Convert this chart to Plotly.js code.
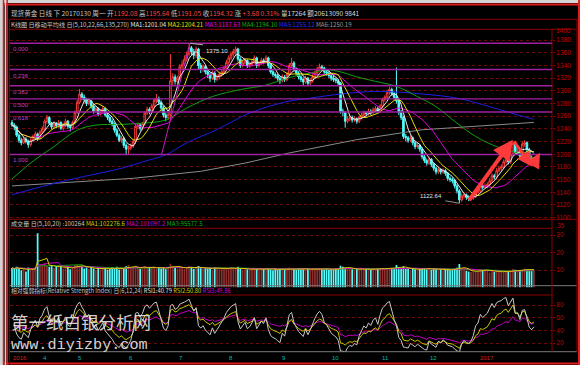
<!DOCTYPE html>
<html><head><meta charset="utf-8">
<script src="https://cdn.plot.ly/plotly-3.0.1.min.js"></script>
<style>html,body{margin:0;padding:0;background:#000;}#chart{width:580px;height:365px;}</style>
</head><body><div id="chart"></div>
<script>
// ---- daily bars (index 0 = first bar on chart, last = 2017-01-30) ----
const openP = [1250,1246,1243,1230,1222,1218,1224,1220,1215,1222,
 1228,1232,1225,1235,1240,1252,1258,1249,1243,1248,
 1245,1250,1241,1246,1252,1244,1242,1250,1266,1282,
 1295,1290,1286,1280,1284,1276,1268,1272,1264,1268,
 1272,1262,1258,1252,1248,1238,1230,1222,1225,1214,
 1208,1210,1213,1220,1244,1246,1241,1248,1265,1271,
 1268,1276,1285,1288,1282,1273,1262,1258,1263,1316,
 1322,1315,1320,1338,1342,1350,1358,1368,1362,1356,
 1366,1340,1334,1338,1330,1326,1320,1328,1318,1322,
 1326,1330,1336,1345,1352,1358,1362,1366,1350,1340,
 1344,1348,1340,1342,1346,1352,1340,1344,1348,1346,
 1352,1340,1330,1326,1324,1320,1316,1322,1318,1326,
 1340,1344,1334,1328,1322,1318,1314,1320,1312,1316,
 1322,1328,1334,1338,1336,1330,1328,1324,1320,1318,
 1316,1312,1268,1266,1252,1256,1258,1254,1256,1252,
 1258,1262,1266,1264,1268,1266,1270,1272,1268,1276,
 1286,1290,1298,1302,1296,1290,1284,1266,1258,1228,
 1226,1222,1226,1218,1212,1214,1208,1196,1190,1186,
 1192,1184,1178,1172,1176,1172,1174,1170,1162,1160,
 1158,1150,1142,1128,1134,1136,1132,1130,1131,1134,
 1140,1142,1150,1148,1150,1152,1158,1166,1164,1174,
 1178,1180,1188,1192,1188,1200,1217,1203,1204,1197,
 1216,1218,1207,1195.3,1192.08];
const highP = [1254,1249,1245,1233,1226,1228,1227,1223,1225,1231,
 1236,1234,1238,1244,1255,1262,1260,1251,1252,1251,
 1254,1252,1249,1256,1254,1247,1253,1269,1286,1303,
 1298,1294,1289,1288,1286,1279,1276,1274,1271,1276,
 1274,1265,1261,1255,1250,1241,1233,1229,1227,1217,
 1214,1217,1224,1248,1250,1249,1251,1268,1275,1274,
 1280,1289,1295,1291,1285,1276,1266,1267,1358,1328,
 1326,1324,1342,1348,1356,1362,1375.1,1371,1366,1370,
 1368,1344,1342,1341,1333,1329,1332,1331,1326,1330,
 1334,1340,1349,1356,1362,1366,1370,1368,1353,1348,
 1352,1350,1346,1350,1356,1354,1347,1352,1351,1356,
 1354,1343,1333,1329,1327,1323,1326,1325,1330,1344,
 1352,1347,1337,1331,1325,1321,1324,1322,1320,1326,
 1332,1338,1343,1341,1338,1333,1331,1327,1324,1321,
 1319,1314,1272,1268,1260,1262,1261,1260,1258,1261,
 1265,1269,1268,1272,1271,1274,1276,1275,1279,1289,
 1293,1302,1306,1305,1299,1337,1288,1270,1261,1232,
 1229,1230,1228,1221,1218,1216,1211,1199,1193,1196,
 1194,1187,1181,1180,1178,1178,1177,1172,1165,1163,
 1161,1153,1145,1138,1140,1138,1135,1135,1137,1143,
 1146,1154,1153,1154,1156,1162,1170,1169,1178,1182,
 1184,1192,1197,1195,1204,1220,1219,1208,1207,1220,
 1222,1220,1210,1198,1195.64];
const lowP = [1243,1238,1227,1218,1214,1216,1217,1210,1212,1219,
 1225,1221,1223,1232,1237,1248,1246,1239,1240,1241,
 1242,1238,1237,1243,1240,1236,1239,1247,1263,1279,
 1285,1282,1276,1277,1272,1264,1265,1260,1261,1265,
 1259,1254,1249,1244,1234,1227,1219,1218,1210,1200,
 1199,1206,1210,1216,1240,1237,1238,1245,1262,1263,
 1265,1273,1281,1278,1269,1258,1252,1254,1252,1308,
 1310,1311,1317,1334,1339,1346,1354,1356,1350,1352,
 1334,1328,1330,1326,1320,1314,1317,1313,1315,1318,
 1322,1327,1333,1341,1348,1354,1357,1346,1336,1337,
 1341,1336,1336,1339,1343,1336,1337,1341,1342,1343,
 1336,1327,1322,1320,1316,1311,1313,1314,1315,1323,
 1337,1330,1324,1318,1314,1309,1311,1308,1309,1313,
 1319,1325,1331,1332,1326,1324,1320,1316,1314,1312,
 1308,1264,1260,1242,1249,1252,1250,1251,1248,1249,
 1255,1259,1260,1261,1262,1263,1267,1264,1265,1273,
 1283,1287,1294,1292,1286,1280,1262,1254,1224,1220,
 1218,1219,1214,1208,1209,1204,1192,1186,1182,1183,
 1180,1174,1168,1169,1168,1169,1166,1158,1156,1154,
 1146,1138,1122.64,1125,1130,1128,1126,1127,1128,1131,
 1137,1139,1144,1145,1146,1149,1155,1160,1161,1171,
 1174,1177,1185,1184,1185,1197,1199,1199,1193,1194,
 1212,1204,1192,1188,1191.05];
const closeP = [1246,1243,1230,1222,1218,1224,1220,1215,1222,1228,
 1232,1225,1235,1240,1252,1258,1249,1243,1248,1245,
 1250,1241,1246,1252,1244,1242,1250,1266,1282,1295,
 1290,1286,1280,1284,1276,1268,1272,1264,1268,1272,
 1262,1258,1252,1248,1238,1230,1222,1225,1214,1208,
 1210,1213,1220,1244,1246,1241,1248,1265,1271,1268,
 1276,1285,1288,1282,1273,1262,1258,1263,1316,1322,
 1315,1320,1338,1342,1350,1358,1368,1362,1356,1366,
 1340,1334,1338,1330,1326,1320,1328,1318,1322,1326,
 1330,1336,1345,1352,1358,1362,1366,1350,1340,1344,
 1348,1340,1342,1346,1352,1340,1344,1348,1346,1352,
 1340,1330,1326,1324,1320,1316,1322,1318,1326,1340,
 1344,1334,1328,1322,1318,1314,1320,1312,1316,1322,
 1328,1334,1338,1336,1330,1328,1324,1320,1318,1316,
 1312,1268,1266,1252,1256,1258,1254,1256,1252,1258,
 1262,1266,1264,1268,1266,1270,1272,1268,1276,1286,
 1290,1298,1302,1296,1290,1284,1266,1258,1228,1226,
 1222,1226,1218,1212,1214,1208,1196,1190,1186,1192,
 1184,1178,1172,1176,1172,1174,1170,1162,1160,1158,
 1150,1142,1128,1134,1136,1132,1130,1131,1134,1140,
 1142,1150,1148,1150,1152,1158,1166,1164,1174,1178,
 1180,1188,1192,1188,1200,1217,1203,1204,1197,1216,
 1218,1207,1195.3,1190.64,1194.32];
// volume in units of 10,000
const volume = [11.2,10.5,11.8,10.9,9.8,10.6,9.2,11.4,10.1,10.8,
 11.5,31.0,13.2,12.6,13.8,12.4,11.9,12.8,11.2,12.1,
 11.6,12.3,10.8,11.5,12.2,10.4,11.3,12.8,13.1,12.6,
 11.8,10.9,11.4,10.6,11.9,10.8,9.9,11.2,10.4,10.9,
 11.3,10.2,10.8,11.5,10.7,11.9,10.3,11.1,10.6,12.1,
 12.9,10.8,11.4,12.4,11.2,10.5,11.8,12.2,10.9,11.6,
 11.2,11.9,10.7,11.3,10.9,11.6,10.4,11.1,13.6,12.2,
 11.5,10.8,11.9,11.2,10.6,11.4,12.1,11.3,10.7,11.6,
 12.3,11.1,10.5,11.2,10.8,11.4,10.2,11.7,10.9,10.4,
 11.1,10.6,11.3,10.8,11.5,10.9,11.2,11.8,10.7,10.3,
 10.9,10.4,10.1,10.8,11.3,10.6,10.2,10.9,10.5,11.1,
 10.8,10.3,9.9,10.6,10.2,10.9,10.4,10.1,10.7,11.4,
 10.8,10.5,10.2,10.9,10.4,10.7,10.3,10.8,10.1,10.6,
 10.9,10.4,11.2,10.6,10.3,10.8,10.1,10.5,10.2,10.7,
 10.9,12.4,11.8,11.3,10.6,10.9,10.4,10.2,10.7,10.3,
 10.5,10.1,10.8,10.4,10.2,10.6,10.3,10.7,10.9,11.2,
 10.8,10.5,11.1,10.7,10.9,12.8,11.6,11.2,12.1,10.9,
 10.6,10.2,10.8,10.4,10.1,10.7,11.2,10.8,10.3,10.6,
 10.2,10.8,10.4,9.8,10.3,9.6,10.1,10.5,9.9,10.4,
 10.8,11.3,13.4,10.9,10.2,9.6,9.1,8.8,9.3,9.8,
 9.5,10.6,9.9,9.4,10.2,8.6,9.2,8.8,9.4,9.1,
 8.7,9.3,8.9,9.0,8.8,10.6,10.2,9.8,9.5,10.2,
 10.9,10.4,10.2,9.6,10.03];
// long moving averages (bar index, value)
const ma4Idx = [0,9,18,28,36,46,56,66,75,86,98,109,118,128,135,141,148,156,165,174,182,191,199,208,217,224];
const ma4Val = [1161,1189,1212,1238,1246,1247,1249,1254,1273,1291,1302,1309,1320,1328,1333,1330,1322,1315,1307,1291,1275,1249,1228,1212,1202,1194.1];
const ma5Idx = [0,16,31,45,59,66,75,88,102,118,128,141,155,166,179,191,205,217,224];
const ma5Val = [1136,1152,1165,1176,1191,1199,1218,1239,1265,1283,1288.5,1295,1299,1298,1294,1288.5,1275,1262,1255.12];
const ma6Idx = [0,24,52,81,100,119,148,176,205,224];
const ma6Val = [1150,1155,1162,1173,1186,1202,1223,1238.6,1245.4,1250.19];
// month labels (bar index where each month starts)
const monthLabels = ['2016','4','5','6','7','8','9','10','11','12','2017'];
const monthIdx = [-0.5,14.2,29.2,51.1,72.5,94,116.7,139,160.5,181.1,203.9];
// Fibonacci drawing
const fibRatios = [0,0.236,0.382,0.5,0.618,1];
const fibLabels = ['0.000','0.236','0.382','0.500','0.618','1.000'];
const fibHigh = 1375.10, fibLow = 1199.6, fibHighIdx = 76.4, fibLowIdx = 64.2;
// red zig-zag drawing (bar index, price)
const zigIdx = [195.7,215.0,223.2,226.6];
const zigVal = [1125.2,1222.8,1180.3,1202.4];

const N = closeP.length;
const idx = closeP.map((_,i)=>i);
function sma(a,n){return a.map((_,i)=>{const s=Math.max(0,i-n+1);let t=0;for(let k=s;k<=i;k++)t+=a[k];return t/(i-s+1);});}
function rsi(c,n){const out=[null];let up=4,ab=8;for(let i=1;i<c.length;i++){const d=c[i]-c[i-1];up=(Math.max(d,0)+(n-1)*up)/n;ab=(Math.abs(d)+(n-1)*ab)/n;out.push(ab===0?50:up/ab*100);}return out;}

const X = px => (px-10)/542;
const Y = py => (352-py)/323;

const traces = [];
traces.push({type:'scatter',mode:'lines',x:ma6Idx,y:ma6Val,line:{color:'#8a8a8a',width:1},hoverinfo:'skip'});
traces.push({type:'scatter',mode:'lines',x:ma5Idx,y:ma5Val,line:{color:'#1e1ee6',width:1,shape:'spline'},hoverinfo:'skip'});
traces.push({type:'scatter',mode:'lines',x:ma4Idx,y:ma4Val,line:{color:'#10a010',width:1,shape:'spline'},hoverinfo:'skip'});
traces.push({type:'candlestick',x:idx,open:openP,high:highP,low:lowP,close:closeP,
  increasing:{line:{color:'#ff3c3c',width:1},fillcolor:'#000000'},
  decreasing:{line:{color:'#54fcfc',width:1},fillcolor:'#54fcfc'},whiskerwidth:0,hoverinfo:'skip'});
traces.push({type:'scatter',mode:'lines',x:[fibLowIdx,fibHighIdx],y:[fibLow,fibHigh],line:{color:'#c020c0',width:1},hoverinfo:'skip'});
traces.push({type:'scatter',mode:'lines',x:idx,y:sma(closeP,22),line:{color:'#e000e0',width:1},hoverinfo:'skip'});
traces.push({type:'scatter',mode:'lines',x:idx,y:sma(closeP,10),line:{color:'#e0e000',width:1},hoverinfo:'skip'});
traces.push({type:'scatter',mode:'lines',x:idx,y:sma(closeP,5),line:{color:'#e8e8e8',width:1},hoverinfo:'skip'});
// volume
const vcol = closeP.map((c,i)=> c>=openP[i] ? '#8c2f2f' : '#54fcfc');
traces.push({type:'bar',x:idx,y:volume,yaxis:'y2',marker:{color:vcol,line:{width:0}},width:0.75,hoverinfo:'skip'});
traces.push({type:'scatter',mode:'lines',x:idx,y:sma(volume,20),yaxis:'y2',line:{color:'#10a010',width:1},hoverinfo:'skip'});
traces.push({type:'scatter',mode:'lines',x:idx,y:sma(volume,10),yaxis:'y2',line:{color:'#d000d0',width:1},hoverinfo:'skip'});
traces.push({type:'scatter',mode:'lines',x:idx,y:sma(volume,5),yaxis:'y2',line:{color:'#d0d000',width:1},hoverinfo:'skip'});
// RSI
traces.push({type:'scatter',mode:'lines',x:idx,y:rsi(closeP,24),yaxis:'y3',line:{color:'#c000c0',width:1},hoverinfo:'skip'});
traces.push({type:'scatter',mode:'lines',x:idx,y:rsi(closeP,12),yaxis:'y3',line:{color:'#c8c800',width:1},hoverinfo:'skip'});
traces.push({type:'scatter',mode:'lines',x:idx,y:rsi(closeP,6),yaxis:'y3',line:{color:'#c8c8c8',width:1},hoverinfo:'skip'});

const shapes = [];
function hline(py,x0,x1,color,w){shapes.push({type:'line',xref:'paper',yref:'paper',x0:X(x0),x1:X(x1),y0:Y(py),y1:Y(py),line:{color:color,width:w}});}
function vline(px,y0,y1,color,w){shapes.push({type:'line',xref:'paper',yref:'paper',x0:X(px),x1:X(px),y0:Y(y0),y1:Y(y1),line:{color:color,width:w}});}
shapes.push({type:'rect',xref:'paper',yref:'paper',x0:X(0),x1:X(580),y0:Y(0),y1:Y(3),fillcolor:'#d4d4d4',line:{width:0}});
hline(4.5,0,580,'#e01c1c',2);
hline(19.3,9,577,'#8b0000',1);
hline(29.3,9,577,'#8b0000',1);
hline(219.3,9,577,'#8b0000',1);
hline(228.3,9,552,'#8b0000',1);
hline(285.7,9,577,'#7a7a7a',1);
hline(295,9,552,'#8b0000',1);
hline(351.7,9,577,'#7a7a7a',1);
hline(363.5,0,580,'#e01c1c',2);
vline(552,29.3,351.7,'#8b0000',1);
vline(577,19.3,351.7,'#8b0000',1);
vline(9.3,19.3,365,'#8b0000',1);
vline(1.5,0,365,'#d4d4d4',3);
vline(3.5,0,365,'#e01c1c',1.5);
vline(5.5,0,365,'#d4d4d4',1.5);
vline(7.2,0,365,'#e01c1c',1.5);
vline(579,0,365,'#e01c1c',2);
// fib lines
fibRatios.forEach(r=>{const p=fibHigh-r*(fibHigh-fibLow);
  shapes.push({type:'line',xref:'paper',yref:'y',x0:0,x1:1,y0:p,y1:p,line:{color:'#a020a0',width:1.4}});});
// label leader lines
shapes.push({type:'line',xref:'x',yref:'y',x0:76.4,y0:1375.1,x1:82,y1:1372.6,line:{color:'#b0b0b0',width:1}});
shapes.push({type:'line',xref:'x',yref:'y',x0:186,y0:1126.5,x1:192,y1:1122.64,line:{color:'#909090',width:1}});

const ann = [];
function txt(px,py,t,color,size,fam){ann.push({xref:'paper',yref:'paper',x:X(px),y:Y(py),xanchor:'left',yanchor:'middle',text:t,showarrow:false,font:{size:size||6,color:color,family:fam||'Noto Sans CJK SC'},borderpad:0});}
const sp = (c,t)=>'<span style="color:'+c+'">'+t+'</span>';
const G='#c8c8c8', R='#ff4040';
txt(10,13, sp(G,'现货黄金 日线 下 20170130 周一 开')+sp(R,'1192.08')+sp(G,' 高')+sp(R,'1195.64')+sp(G,' 低')+sp(R,'1191.05')+sp(G,' 收')+sp(R,'1194.32')+sp(G,' 涨 ')+sp(R,'+3.68 0.31%')+sp('#d8d8d8',' 量17264 额20613090 9841'), G, 6.6);
txt(10,24.5, sp(G,'K线图 日移动平均线 日(5,10,22,66,135,270) ')+sp('#e8e8e8','MA1:1201.04 ')+sp('#e0e000','MA2:1204.21 ')+sp('#e000e0','MA3:1187.63 ')+sp('#10b010','MA4:1194.10 ')+sp('#2828ff','MA5:1255.12 ')+sp('#9a9a9a','MA6:1250.19'), G, 6.1);
txt(10,223.8, sp(G,'成交量 日(5,10,20) :100264 ')+sp('#d0d000','MA1:102276.6 ')+sp('#d000d0','MA2:101097.2 ')+sp('#10b010','MA3:95577.5'), G, 6.1);
txt(10,290.5, sp(G,'相对强弱指标(Relative Strength Index) 日(6,12,24) ')+sp('#e0e0e0','RSI1:40.79 ')+sp('#d0d000','RSI2:50.80 ')+sp('#d000d0','RSI3:49.86'), G, 5.8);
txt(555,31,'1400','#c00000',6.5,'Liberation Sans');
txt(556,225,'35','#c00000',6.5,'Liberation Sans');
// fib labels
fibRatios.forEach((r,k)=>{const p=fibHigh-r*(fibHigh-fibLow);
  ann.push({xref:'paper',yref:'y',x:X(11),y:p,xanchor:'left',yanchor:'top',yshift:-1,text:fibLabels[k],showarrow:false,font:{size:6,color:'#c040c0',family:'Liberation Sans'}});});
ann.push({xref:'x',yref:'y',x:82.4,y:1363.5,xanchor:'left',yanchor:'middle',text:'1375.10',showarrow:false,font:{size:6,color:'#e0e0e0',family:'Liberation Sans'}});
ann.push({xref:'x',yref:'y',x:185.6,y:1133.5,xanchor:'right',yanchor:'middle',text:'1122.64',showarrow:false,font:{size:6,color:'#e0e0e0',family:'Liberation Sans'}});
// month labels
monthLabels.forEach((m,k)=>{const yr=m.length===4;
  ann.push({xref:'x',yref:'paper',x:monthIdx[k],y:Y(358),xanchor:yr&&k===0?'left':'center',yanchor:'middle',text:m,showarrow:false,font:{size:6,color:yr?'#d02020':'#00b8b8',family:'Liberation Sans'}});});
// zig-zag arrows
for(let k=1;k<zigIdx.length;k++){
  ann.push({xref:'x',yref:'y',axref:'x',ayref:'y',x:zigIdx[k],y:zigVal[k],ax:zigIdx[k-1],ay:zigVal[k-1],text:'',showarrow:true,arrowhead:2,arrowsize:1,arrowwidth:k===1?4:3,arrowcolor:'#ff3a3a'});}
// watermark
ann.push({xref:'paper',yref:'paper',x:X(9),y:Y(321),xanchor:'left',yanchor:'middle',text:'第一纸白银分析网',showarrow:false,font:{size:17.5,color:'rgba(236,236,236,0.9)',family:'Noto Sans CJK SC'}});
ann.push({xref:'paper',yref:'paper',x:X(9),y:Y(344.5),xanchor:'left',yanchor:'middle',text:'www.diyizby.com',showarrow:false,font:{size:15.2,color:'rgba(236,236,236,0.9)',family:'Liberation Mono'}});

const tickFont = {size:6.5,color:'#c00000',family:'Liberation Sans'};
const mainTicks=[1100,1120,1140,1160,1180,1200,1220,1240,1260,1280,1300,1320,1340,1360,1380];
const layout = {
  width:580,height:365,paper_bgcolor:'#000',plot_bgcolor:'#000',
  margin:{l:10,r:28,t:29,b:13},showlegend:false,hovermode:false,
  boxgap:0.3,boxgroupgap:0,bargap:0.25,
  xaxis:{range:[-0.86,231.76],showgrid:false,zeroline:false,showticklabels:false,ticks:'',showline:false,rangeslider:{visible:false},anchor:'y3',fixedrange:true},
  yaxis:{domain:[Y(219),1],range:[1097.8,1397.6],side:'right',tickvals:mainTicks,tickfont:tickFont,showgrid:true,gridcolor:'#6a0a0a',griddash:'dot',gridwidth:1,zeroline:false,ticks:'outside',ticklen:2,tickcolor:'#8b0000',showline:false,fixedrange:true},
  yaxis2:{domain:[Y(287.5),Y(226)],range:[0,35.14],side:'right',tickvals:[10,20,30],tickfont:tickFont,showgrid:true,gridcolor:'#6a0a0a',griddash:'dot',zeroline:false,ticks:'outside',ticklen:2,tickcolor:'#8b0000',showline:false,fixedrange:true},
  yaxis3:{domain:[0,Y(295)],range:[5.8,95.8],side:'right',tickvals:[20,40,60,80],tickfont:tickFont,showgrid:true,gridcolor:'#6a0a0a',griddash:'dot',zeroline:false,ticks:'outside',ticklen:2,tickcolor:'#8b0000',showline:false,fixedrange:true},
  shapes:shapes,annotations:ann
};
Plotly.newPlot('chart',traces,layout,{staticPlot:true,displayModeBar:false});
</script></body></html>
